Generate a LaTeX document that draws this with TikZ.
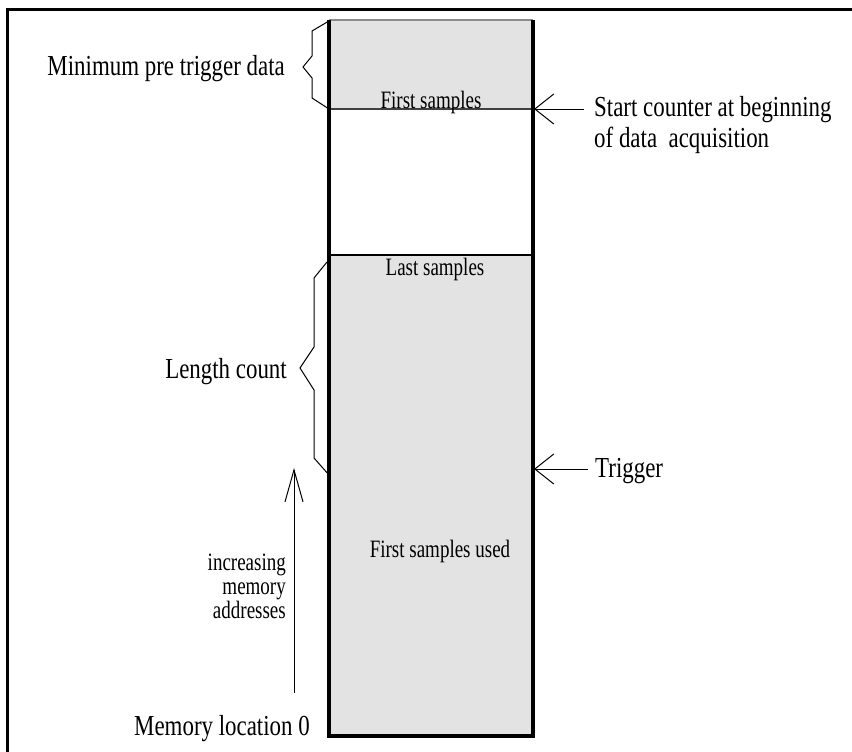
\documentclass[tikz,border=0pt]{standalone}
\usepackage{fontspec}
\usetikzlibrary{arrows.meta}
\newfontfamily\biglab[FakeStretch=0.79]{Liberation Serif}
\newfontfamily\smalllab[FakeStretch=0.76]{Liberation Serif}
\definecolor{memgrey}{HTML}{E3E3E3}
\begin{document}
\begin{tikzpicture}[x=1pt,y=-1pt,
  big/.style={font=\biglab\fontsize{29}{30}\selectfont, inner sep=0pt},
  small/.style={font=\smalllab\fontsize{25}{24}\selectfont, inner sep=0pt},
  brace/.style={draw=black, line width=1pt, line join=miter},
  harrow/.style={draw=black, line width=1pt, -{Straight Barb[length=19pt,width=30pt,line width=1pt]}},
  varrow/.style={draw=black, line width=1pt, -{Straight Barb[length=32pt,width=18pt,line width=1pt]}},
  frame/.style={draw=black, line width=3pt},
  colwall/.style={draw=black, line width=4pt, line join=miter},
  divider/.style={draw=black, line width=1.2pt}]
\useasboundingbox (0,0) rectangle (852,752);
% outer frame (only top and left visible)
\draw[frame] (7,752) -- (7,10) -- (852,10);
% memory column fills
\fill[memgrey] (329,20) rectangle (533,109);
\fill[memgrey] (329,255) rectangle (533,736);
\draw[draw=black!45, line width=1.5pt] (329,20) -- (533,20);
\draw[divider, draw=black!75] (329,109) -- (533,109);
\draw[divider] (329,255) -- (533,255);
\draw[colwall] (329,20) -- (329,736) -- (533,736) -- (533,20);
% coordinates on the column
\coordinate (startpt) at (534,109);
\coordinate (trigpt) at (534,469);
\coordinate (starttail) at (584,109);
\coordinate (trigtail) at (588,469);
\coordinate (incbot) at (294,693);
\coordinate (inctop) at (294,468);
% braces
\draw[brace] (329,21) -- (312,31) -- (312,56) -- (303,67) -- (312,78) -- (312,98) -- (329,109);
\draw[brace] (327,262) -- (314,278) -- (314,347) -- (300,368) -- (314,390) -- (314,458) -- (329,475);
% arrows
\draw[harrow] (starttail) -- (startpt);
\draw[harrow] (trigtail) -- (trigpt);
\draw[varrow] (incbot) -- (inctop);
% labels
\node[big, anchor=base east] (minlab) at (285,76) {Minimum pre trigger data};
\node[big, anchor=base west] (startlab) at (594,117) {Start counter at beginning};
\node[big, anchor=base west] (startlab2) at (594,147) {of data\ \ acquisition};
\node[big, anchor=base east] (lenlab) at (287,378) {Length count};
\node[big, anchor=base west] (triglab) at (595,477) {Trigger};
\node[big, anchor=base east] (memlab) at (310,735) {Memory location 0};
\node[small, anchor=base] (firstlab) at (431,109) {First samples};
\node[small, anchor=base] (lastlab) at (435,275) {Last samples};
\node[small, anchor=base] (usedlab) at (440,557) {First samples used};
\node[small, anchor=base east] (inc1) at (286,570) {increasing};
\node[small, anchor=base east] (inc2) at (286,594) {memory};
\node[small, anchor=base east] (inc3) at (286,618) {addresses};
\end{tikzpicture}
\end{document}
